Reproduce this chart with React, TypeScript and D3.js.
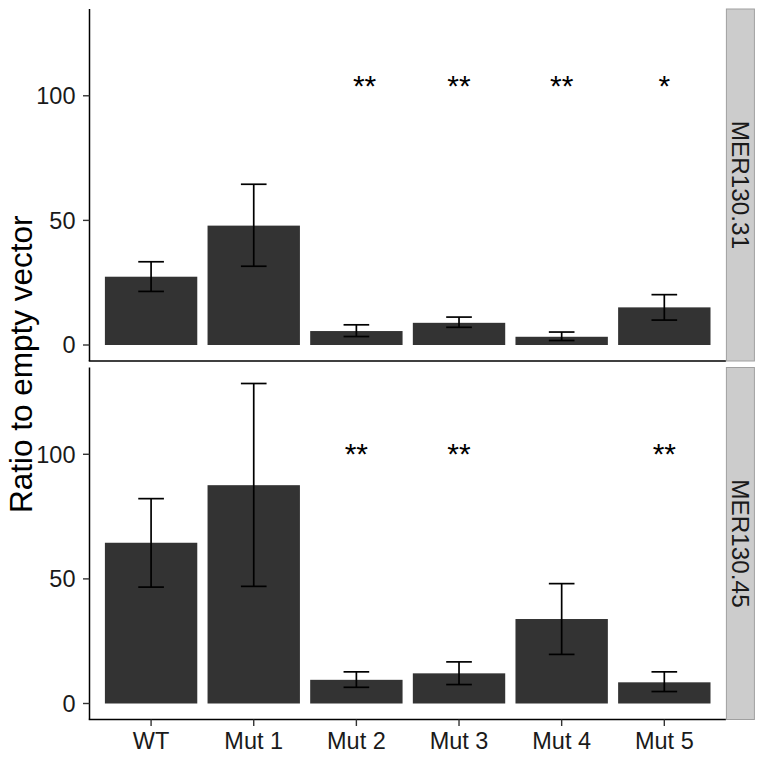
import React from "react";
import * as d3 from "d3";

const categories = ["WT", "Mut 1", "Mut 2", "Mut 3", "Mut 4", "Mut 5"];
const panels = ["MER130.31", "MER130.45"];

const mean31 = [27.4, 47.9, 5.6, 8.9, 3.3, 15.1];
const lower31 = [21.5, 31.6, 3.4, 7.1, 1.8, 10.0];
const upper31 = [33.4, 64.5, 8.1, 11.2, 5.2, 20.2];

const mean45 = [64.5, 87.6, 9.5, 12.1, 33.9, 8.5];
const lower45 = [46.7, 47.0, 6.5, 7.6, 19.7, 4.8];
const upper45 = [82.2, 128.4, 12.7, 16.7, 48.1, 12.7];

// significance labels: category, label, y value, category nudge
const stars31 = [
  { cat: "Mut 2", label: "**", y: 100, nudge: 0.08 },
  { cat: "Mut 3", label: "**", y: 100, nudge: 0 },
  { cat: "Mut 4", label: "**", y: 100, nudge: 0 },
  { cat: "Mut 5", label: "*", y: 100, nudge: 0 },
];
const stars45 = [
  { cat: "Mut 2", label: "**", y: 96, nudge: 0 },
  { cat: "Mut 3", label: "**", y: 96, nudge: 0 },
  { cat: "Mut 5", label: "**", y: 96, nudge: 0 },
];

const yTicks = [0, 50, 100];
const yTitle = "Ratio to empty vector";

const panelData = [
  { name: panels[0], mean: mean31, lower: lower31, upper: upper31, stars: stars31 },
  { name: panels[1], mean: mean45, lower: lower45, upper: upper45, stars: stars45 },
];

const FONT = "'Liberation Sans', Arial, Helvetica, sans-serif";

export default function App() {
  const W = 764;
  const H = 759;
  const px0 = 89.5;
  const px1 = 725.9;
  const panelTops = [9, 367.5];
  const panelH = 352;
  const stripX = 726.4;
  const stripW = 28;

  const allUpper = [...upper31, ...upper45];
  const dmax = d3.max(allUpper) as number;
  const dmin = 0;
  const pad = (dmax - dmin) * 0.05;

  const x = d3
    .scaleBand<string>()
    .domain(categories)
    .range([px0, px1])
    .paddingInner(0.1)
    .paddingOuter(0.15);
  const step = x.step();
  const bw = x.bandwidth();
  const cx = (c: string) => (x(c) as number) + bw / 2;
  const capHalf = step * 0.125;

  return (
    <svg
      width={W}
      height={H}
      style={{ position: "absolute", left: 0, top: 0, background: "#fff" }}
      fontFamily={FONT}
    >
      <rect x={0} y={0} width={W} height={H} fill="#fff" />
      {panelData.map((p, pi) => {
        const top = panelTops[pi];
        const y = d3
          .scaleLinear()
          .domain([dmin - pad, dmax + pad])
          .range([top + panelH, top]);
        const bottom = top + panelH;
        return (
          <g key={p.name}>
            {categories.map((c, i) => (
              <rect
                key={c}
                x={x(c)}
                width={bw}
                y={y(p.mean[i])}
                height={y(0) - y(p.mean[i])}
                fill="#333333"
              />
            ))}
            {categories.map((c, i) => (
              <g key={"e" + c} stroke="#000" strokeWidth={1.7} fill="none">
                <line x1={cx(c)} x2={cx(c)} y1={y(p.upper[i])} y2={y(p.lower[i])} />
                <line x1={cx(c) - capHalf} x2={cx(c) + capHalf} y1={y(p.upper[i])} y2={y(p.upper[i])} />
                <line x1={cx(c) - capHalf} x2={cx(c) + capHalf} y1={y(p.lower[i])} y2={y(p.lower[i])} />
              </g>
            ))}
            {p.stars.map((s) => (
              <text
                key={"s" + s.cat}
                x={cx(s.cat) + s.nudge * step}
                y={y(s.y)}
                textAnchor="middle"
                fontSize={30}
                fill="#000"
              >
                {s.label}
              </text>
            ))}
            {/* axes */}
            <line x1={px0} x2={px0} y1={top} y2={bottom} stroke="#000" strokeWidth={1.5} />
            <line x1={px0 - 0.75} x2={px1} y1={bottom} y2={bottom} stroke="#000" strokeWidth={1.5} />
            {yTicks.map((t) => (
              <g key={"t" + t}>
                <line x1={px0 - 6.5} x2={px0} y1={y(t)} y2={y(t)} stroke="#333" strokeWidth={1.4} />
                <text
                  x={px0 - 14}
                  y={y(t)}
                  dy="0.36em"
                  textAnchor="end"
                  fontSize={23.5}
                  fill="#1a1a1a"
                >
                  {t}
                </text>
              </g>
            ))}
            {/* strip */}
            <rect
              x={stripX}
              y={top}
              width={stripW}
              height={panelH}
              fill="#cccccc"
              stroke="#a0a0a0"
              strokeWidth={1}
            />
            <text
              transform={`translate(${stripX + stripW / 2}, ${top + panelH / 2}) rotate(90)`}
              textAnchor="middle"
              dy="0.36em"
              fontSize={24.3}
              fill="#1a1a1a"
            >
              {p.name}
            </text>
          </g>
        );
      })}
      {/* x axis ticks & labels on bottom panel */}
      {categories.map((c) => (
        <g key={"x" + c}>
          <line
            x1={cx(c)}
            x2={cx(c)}
            y1={panelTops[1] + panelH}
            y2={panelTops[1] + panelH + 6.5}
            stroke="#333"
            strokeWidth={1.4}
          />
          <text x={cx(c)} y={749} textAnchor="middle" fontSize={23.5} fill="#1a1a1a">
            {c}
          </text>
        </g>
      ))}
      <text
        transform={`translate(31.5, ${(panelTops[0] + panelTops[1] + panelH) / 2}) rotate(-90)`}
        textAnchor="middle"
        fontSize={31.5}
        fill="#000"
      >
        {yTitle}
      </text>
    </svg>
  );
}
